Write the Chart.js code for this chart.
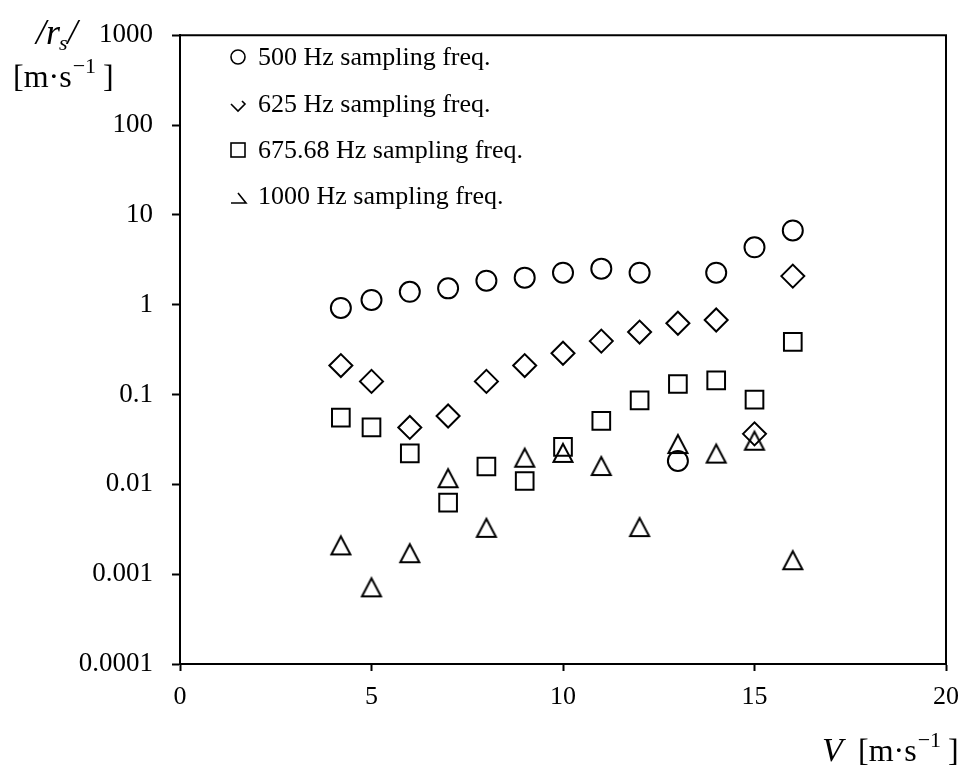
<!DOCTYPE html>
<html>
<head>
<meta charset="utf-8">
<script src="https://cdn.jsdelivr.net/npm/chart.js@4/dist/chart.umd.min.js"></script>
<style>
  html, body { margin: 0; padding: 0; background: #fff; }
</style>
</head>
<body>
<canvas id="chart" width="970" height="767"></canvas>
<script>
// wind speed V [m/s]
const speeds = [4.2, 5, 6, 7, 8, 9, 10, 11, 12, 13, 14, 15, 16];

// |r_s| per sampling frequency
const rs500 = [0.92, 1.13, 1.39, 1.52, 1.85, 2.0, 2.27, 2.52, 2.27, 0.0182, 2.27, 4.35, 6.7];
const rs625 = [0.21, 0.14, 0.043, 0.0576, 0.14, 0.21, 0.288, 0.393, 0.496, 0.621, 0.675, 0.0365, 2.08];
const rs675 = [0.0552, 0.043, 0.0221, 0.00626, 0.0158, 0.0109, 0.0261, 0.0509, 0.0861, 0.131, 0.144, 0.0876, 0.386];
const rs1000 = [0.00209, 0.000713, 0.00171, 0.0117, 0.00328, 0.0198, 0.0224, 0.016, 0.00334, 0.0281, 0.022, 0.0306, 0.00143];

const seriesLabels = ['500 Hz sampling freq.', '625 Hz sampling freq.', '675.68 Hz sampling freq.', '1000 Hz sampling freq.'];

const yTickValues = [0.0001, 0.001, 0.01, 0.1, 1, 10, 100, 1000];
const yTickLabels = ['0.0001', '0.001', '0.01', '0.1', '1', '10', '100', '1000'];
const xTickValues = [0, 5, 10, 15, 20];

const FONT = '"Liberation Serif", "Times New Roman", serif';

// Excel-like triangle marker (taller than the built-in one)
function triangleMarker() {
    const c = document.createElement('canvas');
    c.width = 24;
    c.height = 24;
    const g = c.getContext('2d');
    g.strokeStyle = '#000';
    g.lineWidth = 2;
    g.beginPath();
    g.moveTo(12, 3);
    g.lineTo(21.5, 21);
    g.lineTo(2.5, 21);
    g.closePath();
    g.stroke();
    return c;
}

function toPoints(values) {
    return speeds.map((v, i) => ({ x: v, y: values[i] }));
}

// [m·s^-1]
function drawUnit(ctx, x, y) {
    ctx.font = '32px ' + FONT;
    ctx.fillText('[m\u00B7s', x, y);
    x += ctx.measureText('[m\u00B7s').width;
    ctx.font = '22px ' + FONT;
    ctx.fillText('\u22121', x + 1, y - 14);
    x += ctx.measureText('\u22121').width + 8;
    ctx.font = '32px ' + FONT;
    ctx.fillText(']', x, y);
}

// Frame, axis titles and legend (legend symbols are partly clipped like the original)
const decorations = {
    id: 'decorations',
    afterDraw(chart) {
        const ctx = chart.ctx;
        const area = chart.chartArea;
        ctx.save();
        ctx.strokeStyle = '#000';
        ctx.lineWidth = 2;
        ctx.beginPath();
        ctx.moveTo(area.left, area.top);
        ctx.lineTo(area.right, area.top);
        ctx.lineTo(area.right, area.bottom);
        ctx.stroke();

        ctx.fillStyle = '#000';
        ctx.textBaseline = 'alphabetic';

        // y title
        ctx.font = 'italic 36px ' + FONT;
        let x = 36;
        ctx.fillText('/r', x, 44);
        x += ctx.measureText('/r').width;
        ctx.font = 'italic 22px ' + FONT;
        ctx.fillText('s', x - 1, 50);
        x += ctx.measureText('s').width - 1;
        ctx.font = 'italic 36px ' + FONT;
        ctx.fillText('/', x, 44);

        drawUnit(ctx, 13, 87);

        // x title
        ctx.font = 'italic 34px ' + FONT;
        ctx.fillText('V', 822, 761);
        drawUnit(ctx, 858, 761);

        // legend
        const rows = [57, 104, 150, 196];
        const sx = 238;
        ctx.lineWidth = 1.6;
        ctx.beginPath();
        ctx.arc(sx, rows[0], 7, 0, Math.PI * 2);
        ctx.stroke();
        ctx.beginPath();
        ctx.moveTo(sx - 7, rows[1]);
        ctx.lineTo(sx, rows[1] + 7);
        ctx.lineTo(sx + 7, rows[1]);
        ctx.lineTo(sx + 4, rows[1] - 3);
        ctx.stroke();
        ctx.strokeRect(sx - 7, rows[2] - 7, 14, 14);
        ctx.beginPath();
        ctx.moveTo(sx, rows[3] - 3);
        ctx.lineTo(sx + 8, rows[3] + 7);
        ctx.lineTo(sx - 7, rows[3] + 7);
        ctx.stroke();

        ctx.font = '26px ' + FONT;
        ctx.textBaseline = 'middle';
        seriesLabels.forEach((label, i) => ctx.fillText(label, 258, rows[i] + 1));
        ctx.restore();
    }
};

const tri = triangleMarker();
const common = { showLine: false, borderColor: '#000', backgroundColor: 'rgba(0,0,0,0)', borderWidth: 2 };

new Chart(document.getElementById('chart'), {
    type: 'scatter',
    data: {
        datasets: [
            { ...common, label: seriesLabels[0], data: toPoints(rs500), pointStyle: 'circle', pointRadius: 10 },
            { ...common, label: seriesLabels[1], data: toPoints(rs625), pointStyle: 'rectRot', pointRadius: 11.5 },
            { ...common, label: seriesLabels[2], data: toPoints(rs675), pointStyle: 'rect', pointRadius: 12.5 },
            { ...common, label: seriesLabels[3], data: toPoints(rs1000), pointStyle: tri, pointRadius: 12 }
        ]
    },
    options: {
        responsive: false,
        animation: false,
        layout: { padding: { left: 0, top: 20, right: 19, bottom: 0 } },
        plugins: {
            legend: { display: false },
            tooltip: { enabled: false }
        },
        scales: {
            x: {
                type: 'linear',
                min: 0,
                max: 20,
                afterBuildTicks: axis => { axis.ticks = xTickValues.map(v => ({ value: v })); },
                afterFit: axis => { axis.height = 103; },
                ticks: { color: '#000', font: { family: FONT, size: 26 }, padding: 11, maxRotation: 0, autoSkip: false },
                grid: { drawOnChartArea: false, tickLength: 7, tickColor: '#000', tickWidth: 2 },
                border: { color: '#000', width: 2 }
            },
            y: {
                type: 'logarithmic',
                min: 0.0001,
                max: 1000,
                afterBuildTicks: axis => { axis.ticks = yTickValues.map(v => ({ value: v })); },
                afterFit: axis => { axis.width = 180; },
                ticks: { color: '#000', font: { family: FONT, size: 27 }, padding: 19, autoSkip: false,
                    callback: (value, index) => yTickLabels[index] },
                grid: { drawOnChartArea: false, tickLength: 8, tickColor: '#000', tickWidth: 2 },
                border: { color: '#000', width: 2 }
            }
        }
    },
    plugins: [decorations]
});
</script>
</body>
</html>
